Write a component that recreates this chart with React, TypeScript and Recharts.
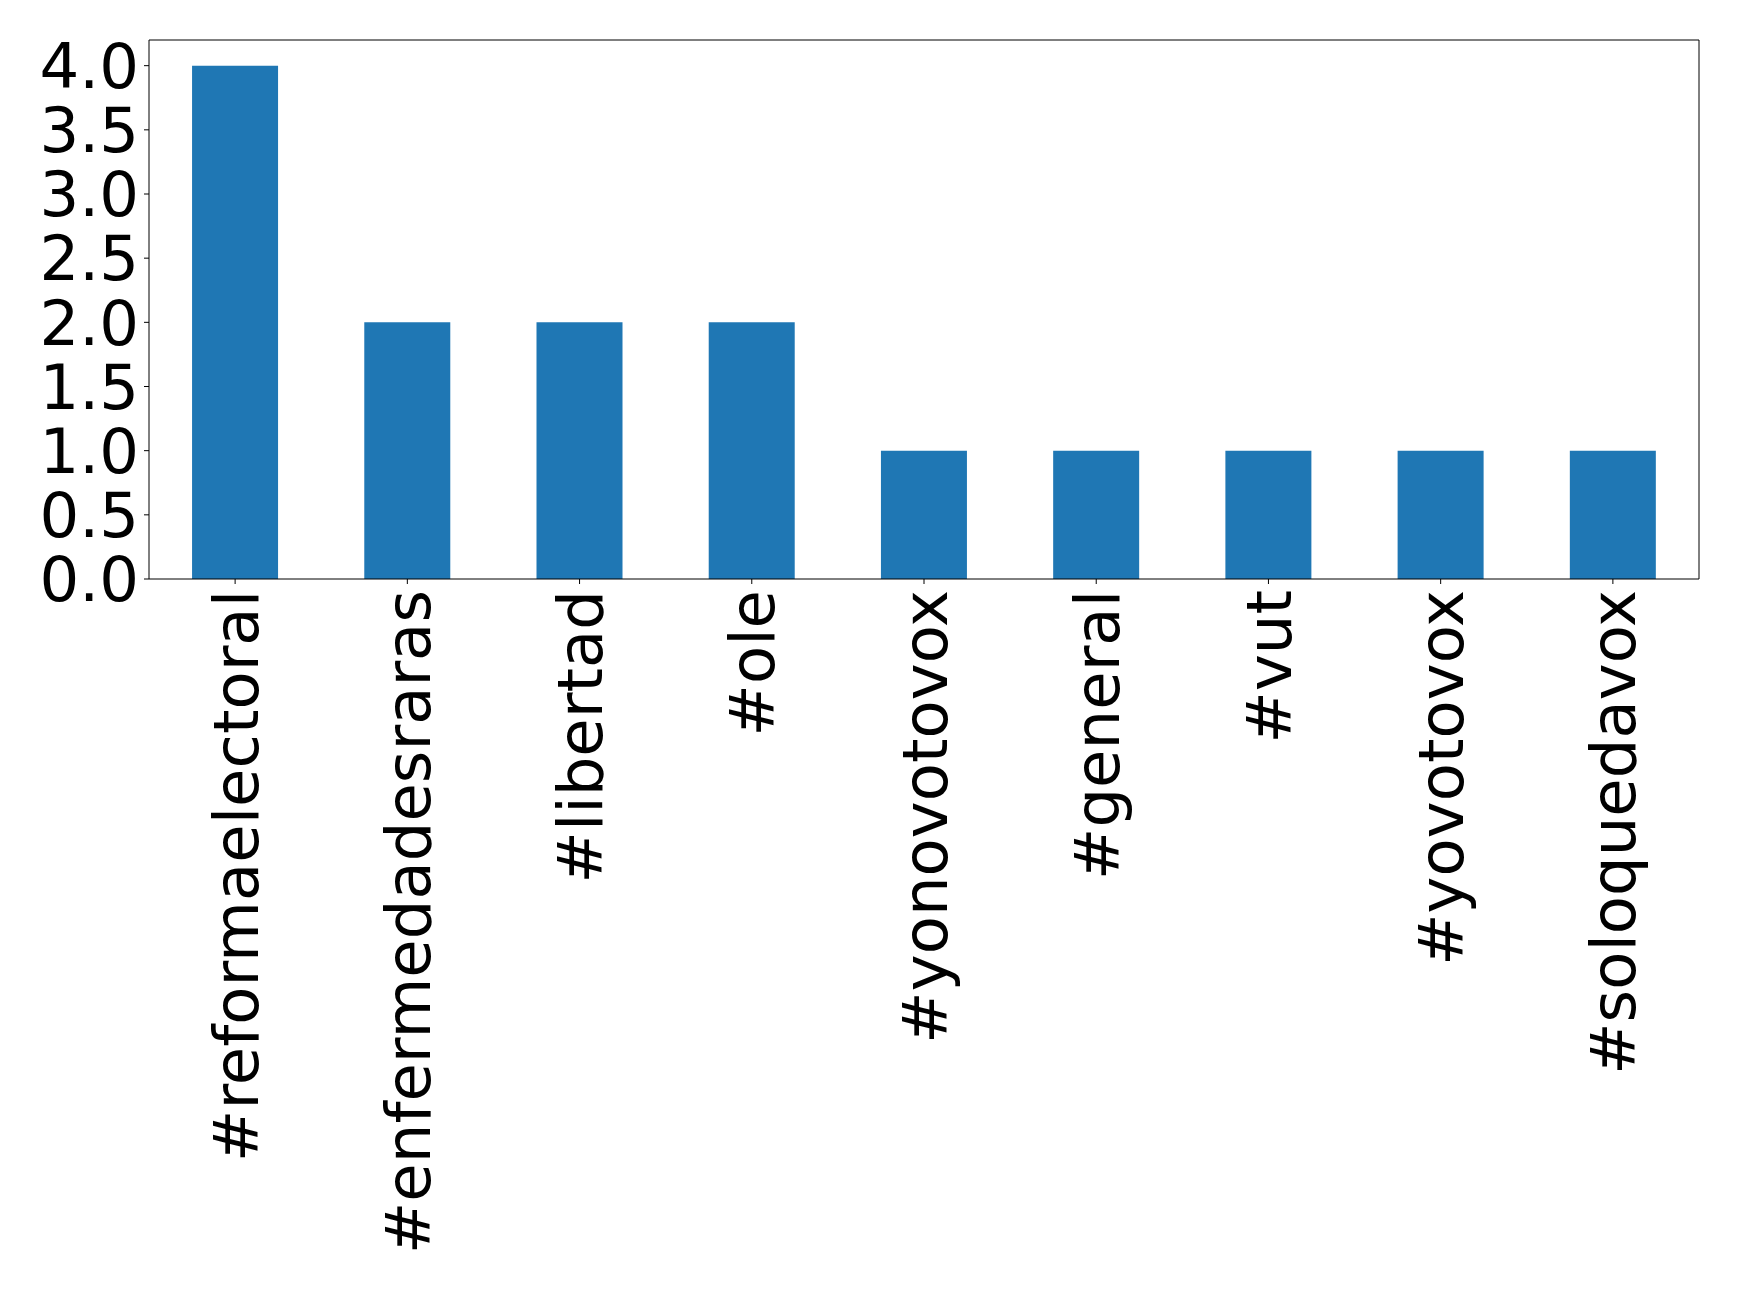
import React from 'react';
import { BarChart, Bar, XAxis, YAxis } from 'recharts';

const hashtags = [
    '#reformaelectoral',
    '#enfermedadesraras',
    '#libertad',
    '#ole',
    '#yonovotovox',
    '#general',
    '#vut',
    '#yovotovox',
    '#soloquedavox',
];
const counts = [4, 2, 2, 2, 1, 1, 1, 1, 1];
const yTicks = [0, 0.5, 1, 1.5, 2, 2.5, 3, 3.5, 4];

const data = hashtags.map((tag, i) => ({ tag, count: counts[i] }));

const FONT = '"DejaVu Sans", sans-serif';
const FONT_SIZE = 62.5;

// rotated category label, reads bottom to top, ending just under the axis
const RotatedTick = (props: any) => {
    const { x, y, payload } = props;
    return (
        <g transform={`translate(${x},${y})`}>
            <text
                transform="rotate(-90)"
                x={0}
                y={0}
                dy="0.36em"
                textAnchor="end"
                fontFamily={FONT}
                fontSize={FONT_SIZE}
                fill="#000"
            >
                {payload.value}
            </text>
        </g>
    );
};

const App: React.FC = () => {
    return (
        <div style={{ position: 'absolute', left: 0, top: 0, background: '#fff' }}>
            <BarChart
                width={1739}
                height={1292}
                data={data}
                margin={{ top: 39, right: 39, bottom: 0, left: 0 }}
                barCategoryGap="25%"
            >
                <XAxis
                    dataKey="tag"
                    xAxisId="bottom"
                    height={713}
                    interval={0}
                    stroke="#000"
                    tickLine={{ stroke: '#000' }}
                    tickSize={5}
                    tickMargin={6}
                    tick={<RotatedTick />}
                />
                <XAxis
                    dataKey="tag"
                    xAxisId="top"
                    orientation="top"
                    height={1}
                    tick={false}
                    tickLine={false}
                    stroke="#000"
                />
                <YAxis
                    yAxisId="left"
                    width={149}
                    domain={[0, 4.2]}
                    ticks={yTicks}
                    interval={0}
                    stroke="#000"
                    tickSize={5}
                    tickMargin={5}
                    tickFormatter={(v: number) => v.toFixed(1)}
                    tick={{ fill: '#000', fontSize: FONT_SIZE, fontFamily: FONT }}
                />
                <YAxis
                    yAxisId="right"
                    orientation="right"
                    width={1}
                    domain={[0, 4.2]}
                    tick={false}
                    tickLine={false}
                    stroke="#000"
                />
                <Bar
                    dataKey="count"
                    xAxisId="bottom"
                    yAxisId="left"
                    fill="#1f77b4"
                    isAnimationActive={false}
                />
            </BarChart>
        </div>
    );
};

export default App;
